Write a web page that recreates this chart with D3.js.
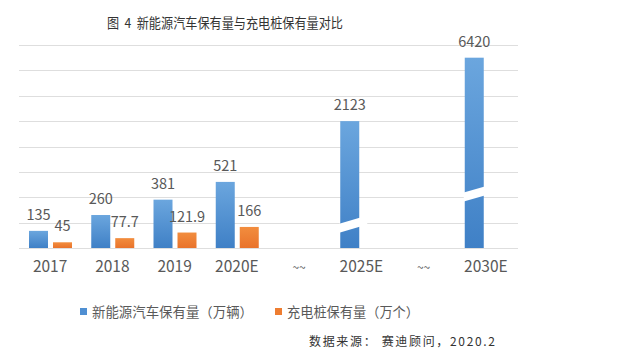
<!DOCTYPE html>
<html lang="zh">
<head>
<meta charset="utf-8">
<title>新能源汽车保有量与充电桩保有量对比</title>
<script src="https://d3js.org/d3.v7.min.js"></script>
<style>
  body { margin: 0; background: #fff; }
  text { font-family: "Noto Sans CJK SC", "Noto Sans", sans-serif; }
</style>
</head>
<body>
<div id="chart"></div>
<script>
// data
const categories = ["2017", "2018", "2019", "2020E", "~~", "2025E", "~~ ", "2030E"];
const evStock   = [135, 260, 381, 521, null, 2123, null, 6420];   // 万辆
const pileStock = [45, 77.7, 121.9, 166, null, null, null, null]; // 万个
// bars that run past the axis are cut: height they are drawn to, and where the break sits
const shownAs  = [null, null, null, null, null, 1000, null, 1500];
const breakAt  = [null, null, null, null, null, 180, null, 426];
const gridTicks = [0, 200, 400, 600, 800, 1000, 1200, 1400, 1600];
const seriesNames = ["新能源汽车保有量（万辆）", "充电桩保有量（万个）"];

const width = 623, height = 358;
const svg = d3.select("#chart").append("svg")
  .attr("width", width).attr("height", height);

const defs = svg.append("defs");
function grad(id, top, bottom) {
  const g = defs.append("linearGradient").attr("id", id)
    .attr("x1", 0).attr("y1", 0).attr("x2", 0).attr("y2", 1);
  g.append("stop").attr("offset", "0%").attr("stop-color", top);
  g.append("stop").attr("offset", "100%").attr("stop-color", bottom);
}
grad("gBlue", "#6ba6de", "#3f80c6");
grad("gOrange", "#f28d3e", "#e9732b");

const x = d3.scaleBand().domain(categories).range([19, 517]);
const y = d3.scaleLinear().domain([0, 1600]).range([248, 45]);
const barW = 19, blueOff = 10, orangeOff = 34;

// title
svg.append("text")
  .attr("x", 107).attr("y", 28)
  .attr("font-size", 13.5).attr("fill", "#333")
  .attr("textLength", 236).attr("lengthAdjust", "spacingAndGlyphs")
  .text("图\u00a0\u00a04\u00a0\u00a0新能源汽车保有量与充电桩保有量对比");

// gridlines
svg.append("g").selectAll("line")
  .data(gridTicks).enter().append("line")
  .attr("x1", 19).attr("x2", 518)
  .attr("y1", d => Math.round(y(d)) + 0.5).attr("y2", d => Math.round(y(d)) + 0.5)
  .attr("stroke", "#dedede").attr("stroke-width", 1);

// blue bars
const idx = d3.range(categories.length);
const evIdx = idx.filter(i => evStock[i] != null);
svg.append("g").selectAll("rect")
  .data(evIdx).enter().append("rect")
  .attr("x", i => x(categories[i]) + blueOff)
  .attr("width", barW)
  .attr("y", i => y(shownAs[i] != null ? shownAs[i] : evStock[i]))
  .attr("height", i => y(0) - y(shownAs[i] != null ? shownAs[i] : evStock[i]))
  .attr("fill", "url(#gBlue)");

// orange bars
const pileIdx = idx.filter(i => pileStock[i] != null);
svg.append("g").selectAll("rect")
  .data(pileIdx).enter().append("rect")
  .attr("x", i => x(categories[i]) + orangeOff)
  .attr("width", barW)
  .attr("y", i => y(pileStock[i]))
  .attr("height", i => y(0) - y(pileStock[i]))
  .attr("fill", "url(#gOrange)");

// break marks on the cut bars
const brkIdx = idx.filter(i => breakAt[i] != null);
svg.append("g").selectAll("path")
  .data(brkIdx).enter().append("path")
  .attr("d", i => {
    const x0 = x(categories[i]) + blueOff - 1, x1 = x0 + barW + 9;
    const yc = y(breakAt[i]);
    const slope = -5.5 / barW, gap = 4.5;
    const yl = yc - slope * (barW / 2 + 1), yr = yl + slope * (x1 - x0);
    return `M${x0},${yl - gap}L${x1},${yr - gap}L${x1},${yr + gap}L${x0},${yl + gap}Z`;
  })
  .attr("fill", "#fff");

// value labels
const labelFont = 14.5;
svg.append("g").selectAll("text")
  .data(evIdx).enter().append("text")
  .attr("x", i => x(categories[i]) + blueOff + barW / 2)
  .attr("y", i => y(shownAs[i] != null ? shownAs[i] : evStock[i]) - 11)
  .attr("text-anchor", "middle").attr("font-size", labelFont).attr("fill", "#595959")
  .text(i => evStock[i]);
svg.append("g").selectAll("text")
  .data(pileIdx).enter().append("text")
  .attr("x", i => x(categories[i]) + orangeOff + barW / 2)
  .attr("y", i => y(pileStock[i]) - 11)
  .attr("text-anchor", "middle").attr("font-size", labelFont).attr("fill", "#595959")
  .text(i => pileStock[i]);

// x axis labels
svg.append("g").selectAll("text")
  .data(categories).enter().append("text")
  .attr("x", d => x(d) + x.bandwidth() / 2)
  .attr("y", 272)
  .attr("text-anchor", "middle")
  .attr("font-size", d => d.trim() === "~~" ? 12 : 15.5)
  .attr("fill", "#595959")
  .text(d => d.trim());

// legend
const legend = svg.append("g");
const legendX = [80, 275], legendFill = ["#4f8fd2", "#ee7d31"], legendLen = [161, 132];
seriesNames.forEach((name, k) => {
  legend.append("rect")
    .attr("x", legendX[k]).attr("y", 308).attr("width", 7).attr("height", 7)
    .attr("fill", legendFill[k]);
  legend.append("text")
    .attr("x", legendX[k] + 12).attr("y", 316.5)
    .attr("font-size", 13.5).attr("fill", "#595959")
    .attr("textLength", legendLen[k]).attr("lengthAdjust", "spacingAndGlyphs")
    .text(name);
});

// source
svg.append("text")
  .attr("x", 309).attr("y", 346)
  .attr("font-size", 12).attr("fill", "#333")
  .attr("textLength", 186).attr("lengthAdjust", "spacing")
  .text("数据来源： 赛迪顾问，2020.2");
</script>
</body>
</html>
